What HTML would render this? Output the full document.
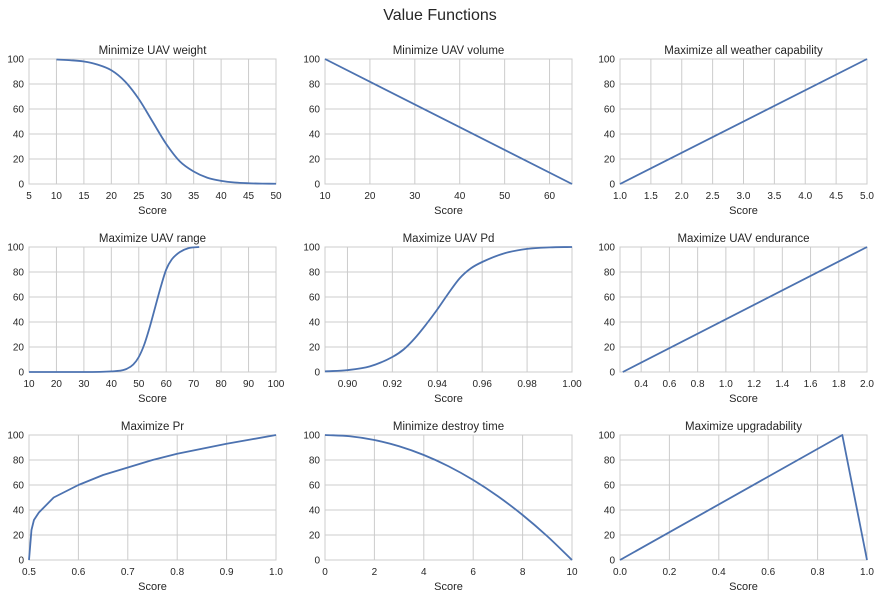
<!DOCTYPE html>
<html><head><meta charset="utf-8"><style>
html,body{margin:0;padding:0;background:#fff}
svg{display:block;font-family:"Liberation Sans","DejaVu Sans",sans-serif}
</style></head><body>
<svg id="fig" width="880" height="599" viewBox="0 0 880 599" xmlns="http://www.w3.org/2000/svg">
<text x="440" y="20" text-anchor="middle" font-size="16" fill="#262626">Value Functions</text>
</svg>
<script>
// Data arrays per subplot
const titles = ["Minimize UAV weight","Minimize UAV volume","Maximize all weather capability","Maximize UAV range","Maximize UAV Pd","Maximize UAV endurance","Maximize Pr","Minimize destroy time","Maximize upgradability"];
const xDomains = [[5,50],[10,65],[1,5],[10,100],[0.89,1.0],[0.25,2.0],[0.5,1.0],[0,10],[0,1]];
const xTicks = [[5,10,15,20,25,30,35,40,45,50],[10,20,30,40,50,60],[1,1.5,2,2.5,3,3.5,4,4.5,5],[10,20,30,40,50,60,70,80,90,100],[0.90,0.92,0.94,0.96,0.98,1.00],[0.4,0.6,0.8,1.0,1.2,1.4,1.6,1.8,2.0],[0.5,0.6,0.7,0.8,0.9,1.0],[0,2,4,6,8,10],[0,0.2,0.4,0.6,0.8,1.0]];
const xTickLabels = [["5","10","15","20","25","30","35","40","45","50"],["10","20","30","40","50","60"],["1.0","1.5","2.0","2.5","3.0","3.5","4.0","4.5","5.0"],["10","20","30","40","50","60","70","80","90","100"],["0.90","0.92","0.94","0.96","0.98","1.00"],["0.4","0.6","0.8","1.0","1.2","1.4","1.6","1.8","2.0"],["0.5","0.6","0.7","0.8","0.9","1.0"],["0","2","4","6","8","10"],["0.0","0.2","0.4","0.6","0.8","1.0"]];
const yTicks = [0,20,40,60,80,100];
const weightX = [10,12.5,15,17.5,20,22.5,25,27.5,30,32.5,35,37.5,40,42.5,45,47.5,50];
const weightY = [99.6,99,98,95.5,91,82,68,50,32,18,10,5,2.5,1.2,0.6,0.3,0.2];
const volumeX = [10,65];
const volumeY = [100,0];
const weatherX = [1,5];
const weatherY = [0,100];
const rangeX = [10,30,40,45,48,50,52,54,56,58,60,62,65,68,72];
const rangeY = [0,0,0.5,2,6,12,22,36,52,68,82,90,96,99,100];
const pdX = [0.89,0.90,0.91,0.92,0.925,0.93,0.935,0.94,0.945,0.95,0.955,0.96,0.97,0.98,0.99,1.0];
const pdY = [0.5,1.5,4.5,12,18,27,38,50,63,75,83,88,95,98.5,99.7,100];
const endX = [0.27,2.0];
const endY = [0,100];
const prX = [0.5,0.505,0.51,0.52,0.55,0.6,0.65,0.7,0.75,0.8,0.85,0.9,0.95,1.0];
const prY = [0,24,32,38,50,60,68,74,80,85,89,93,96.5,100];
const destroyX = [0,1,2,3,4,5,6,7,8,9,10];
const destroyY = [100,99,96,91,84,75,64,51,36,19,0];
const upX = [0,0.9,1.0];
const upY = [0,100,0];
const seriesX = [weightX,volumeX,weatherX,rangeX,pdX,endX,prX,destroyX,upX];
const seriesY = [weightY,volumeY,weatherY,rangeY,pdY,endY,prY,destroyY,upY];
const smoothFlags = [true,false,false,true,true,false,false,true,false];

const NS="http://www.w3.org/2000/svg";
const svg=document.getElementById('fig');
const colL=[29,325,620], colW=247, rowT=[59,247,435], rowH=125;
function mk(tag,attrs,parent){const e=document.createElementNS(NS,tag);for(const k in attrs)e.setAttribute(k,attrs[k]);(parent||svg).appendChild(e);return e;}
// monotone cubic (Fritsch-Carlson) path
function monoPath(P){
  const n=P.length; if(n<3) return 'M'+P.map(p=>p[0].toFixed(2)+','+p[1].toFixed(2)).join(' L');
  const d=[],m=[];
  for(let k=0;k<n-1;k++) d.push((P[k+1][1]-P[k][1])/(P[k+1][0]-P[k][0]));
  m[0]=d[0]; m[n-1]=d[n-2];
  for(let k=1;k<n-1;k++) m[k]=(d[k-1]*d[k]<=0)?0:(d[k-1]+d[k])/2;
  for(let k=0;k<n-1;k++){ if(d[k]===0){m[k]=0;m[k+1]=0;continue;} const a=m[k]/d[k],b=m[k+1]/d[k],s=a*a+b*b; if(s>9){const t=3/Math.sqrt(s);m[k]=t*a*d[k];m[k+1]=t*b*d[k];} }
  let s='M'+P[0][0].toFixed(2)+','+P[0][1].toFixed(2);
  for(let k=0;k<n-1;k++){const h=(P[k+1][0]-P[k][0])/3;
    s+=' C'+(P[k][0]+h).toFixed(2)+','+(P[k][1]+m[k]*h).toFixed(2)+' '+(P[k+1][0]-h).toFixed(2)+','+(P[k+1][1]-m[k+1]*h).toFixed(2)+' '+P[k+1][0].toFixed(2)+','+P[k+1][1].toFixed(2);}
  return s;
}
for(let i=0;i<9;i++){
  const L=colL[i%3], T=rowT[Math.floor(i/3)];
  const g=mk('g',{});
  
  
  const [d0,d1]=xDomains[i];
  const sx=v=>L+(v-d0)/(d1-d0)*colW;
  const sy=v=>T+rowH-(v/100)*rowH;
  mk('rect',{x:L,y:T,width:colW,height:rowH,fill:'#fff'},g);
  xTicks[i].forEach((t,j)=>{
    const x=sx(t);
    const ln=mk('line',{x1:x,x2:x,y1:T,y2:T+rowH,stroke:'#cccccc','stroke-width':1},g);
    
    
    const tx=mk('text',{x:x,y:T+rowH+15,'text-anchor':'middle','font-size':10,fill:'#262626'},g);
    
    
    tx.textContent=xTickLabels[i][j];
  });
  yTicks.forEach(t=>{
    const y=sy(t);
    const ln=mk('line',{x1:L,x2:L+colW,y1:y,y2:y,stroke:'#cccccc','stroke-width':1},g);
    
    
    const tx=mk('text',{x:L-5,y:y+3.5,'text-anchor':'end','font-size':10,fill:'#262626'},g);
    
    
    tx.textContent=String(t);
  });
  const fr=mk('rect',{x:L,y:T,width:colW,height:rowH,fill:'none',stroke:'#cccccc','stroke-width':1},g);
  
  
  const xs=seriesX[i], ys=seriesY[i];
  const P=xs.map((x,k)=>[sx(x),sy(ys[k])]);
  const dAttr=smoothFlags[i]?monoPath(P):'M'+P.map(p=>p[0].toFixed(2)+','+p[1].toFixed(2)).join(' L');
  const pl=mk('path',{d:dAttr,fill:'none',stroke:'#4c72b0','stroke-width':1.8,'stroke-linejoin':'round'},g);
  
  
  const ti=mk('text',{x:L+colW/2,y:T-5,'text-anchor':'middle','font-size':11.5,fill:'#262626'},g);
  
  
  ti.textContent=titles[i];
  const xl=mk('text',{x:L+colW/2,y:T+rowH+30,'text-anchor':'middle','font-size':11,fill:'#262626'},g);
  
  
  xl.textContent='Score';
}
</script>
</body></html>
